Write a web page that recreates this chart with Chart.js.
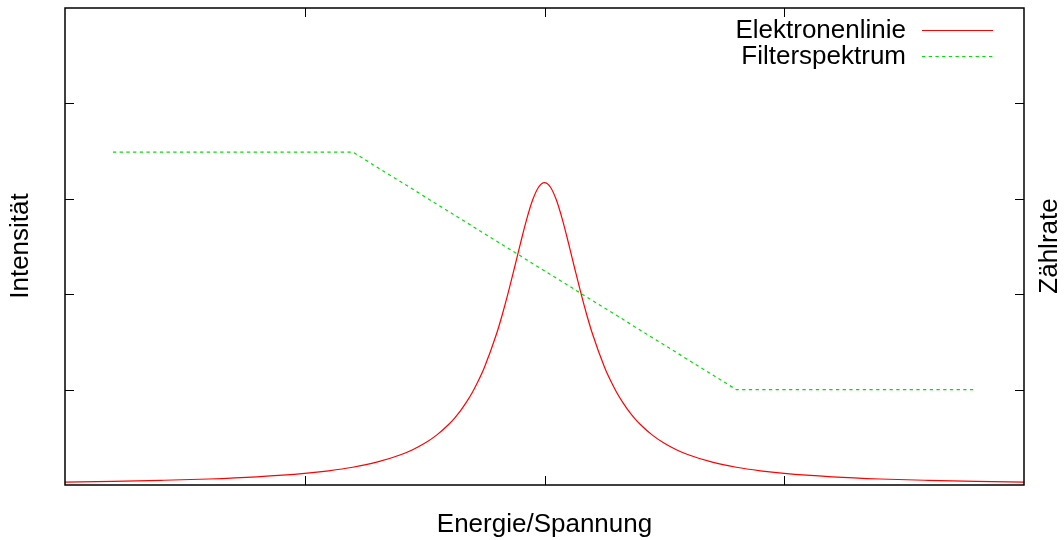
<!DOCTYPE html>
<html>
<head>
<meta charset="utf-8">
<script src="https://cdn.jsdelivr.net/npm/chart.js@4"></script>
<style>
  body { margin: 0; background: #fff; }
  #wrap { width: 1064px; height: 540px; }
</style>
</head>
<body>
<div id="wrap"><canvas id="chart" width="1064" height="540"></canvas></div>
<script>
// Elektronenlinie (Peak in der Mitte)
const elecX = [0, 0.2, 0.4, 0.6, 0.8, 1.0, 1.1, 1.2, 1.3, 1.4, 1.45, 1.5, 1.55, 1.6, 1.625, 1.65, 1.675, 1.7, 1.725, 1.75, 1.8, 1.825, 1.85, 1.875, 1.9, 1.925, 1.95, 1.975, 2,
  2.025, 2.05, 2.075, 2.1, 2.125, 2.15, 2.175, 2.2, 2.25, 2.275, 2.3, 2.325, 2.35, 2.375, 2.4, 2.45, 2.5, 2.55, 2.6, 2.7, 2.8, 2.9, 3.0, 3.2, 3.4, 3.6, 3.8, 4];
const elecY = [0.031, 0.039, 0.049, 0.063, 0.086, 0.122, 0.149, 0.186, 0.239, 0.317, 0.37, 0.437, 0.523, 0.634, 0.702, 0.78, 0.871, 0.975, 1.097, 1.237, 1.585, 1.795, 2.029, 2.28, 2.536, 2.779, 2.984, 3.121, 3.17,
  3.121, 2.984, 2.779, 2.536, 2.28, 2.029, 1.795, 1.585, 1.237, 1.097, 0.975, 0.871, 0.78, 0.702, 0.634, 0.523, 0.437, 0.37, 0.317, 0.239, 0.186, 0.149, 0.122, 0.086, 0.063, 0.049, 0.039, 0.031];

// Filterspektrum
const filterX = [0.2, 1.2, 2.8, 3.8];
const filterY = [3.49, 3.49, 1.0, 1.0];

// Tickpositionen (ohne Beschriftung)
const xTicks = [1, 2, 3];
const yTicks = [1, 2, 3, 4];

const seriesNames = ['Elektronenlinie', 'Filterspektrum'];
const FONT = '26px "Liberation Sans", Arial, sans-serif';

function toPoints(xs, ys) {
  return xs.map((x, i) => ({ x: x, y: ys[i] }));
}

// Rahmen, Ticks, Achsentitel und Legende im gnuplot-Stil
const gnuFrame = {
  id: 'gnuFrame',
  afterDraw(chart) {
    const ctx = chart.ctx;
    const a = chart.chartArea;
    const sx = chart.scales.x, sy = chart.scales.y;
    ctx.save();
    ctx.strokeStyle = '#000';
    ctx.lineWidth = 1.5;
    ctx.strokeRect(a.left, a.top, a.right - a.left, a.bottom - a.top);
    ctx.lineWidth = 1;
    const tl = 9;
    xTicks.forEach(v => {
      const px = Math.round(sx.getPixelForValue(v)) + 0.5;
      ctx.beginPath();
      ctx.moveTo(px, a.bottom); ctx.lineTo(px, a.bottom - tl);
      ctx.moveTo(px, a.top); ctx.lineTo(px, a.top + tl);
      ctx.stroke();
    });
    yTicks.forEach(v => {
      const py = Math.round(sy.getPixelForValue(v)) + 0.5;
      ctx.beginPath();
      ctx.moveTo(a.left, py); ctx.lineTo(a.left + tl, py);
      ctx.moveTo(a.right, py); ctx.lineTo(a.right - tl, py);
      ctx.stroke();
    });

    ctx.fillStyle = '#000';
    ctx.font = FONT;
    ctx.textBaseline = 'middle';
    ctx.textAlign = 'center';
    ctx.fillText('Energie/Spannung', (a.left + a.right) / 2, 525);

    ctx.save();
    ctx.translate(21, 246);
    ctx.rotate(-Math.PI / 2);
    ctx.fillText('Intensität', 0, 0);
    ctx.restore();

    ctx.save();
    ctx.translate(1050, 246);
    ctx.rotate(-Math.PI / 2);
    ctx.fillText('Zählrate', 0, 0);
    ctx.restore();

    // Legende
    const rows = [30, 56];
    chart.data.datasets.forEach((ds, i) => {
      const y = rows[i];
      ctx.textAlign = 'right';
      ctx.fillStyle = '#000';
      ctx.fillText(seriesNames[i], 906, y + 1);
      ctx.strokeStyle = ds.borderColor;
      ctx.lineWidth = ds.borderWidth;
      ctx.setLineDash(ds.borderDash || []);
      ctx.beginPath();
      ctx.moveTo(922, y + 0.5); ctx.lineTo(993, y + 0.5);
      ctx.stroke();
      ctx.setLineDash([]);
    });
    ctx.restore();
  }
};

new Chart(document.getElementById('chart'), {
  type: 'line',
  data: {
    datasets: [
      {
        label: seriesNames[0],
        data: toPoints(elecX, elecY),
        borderColor: '#ff0000',
        borderWidth: 1.2,
        pointRadius: 0,
        fill: false,
        cubicInterpolationMode: 'monotone'
      },
      {
        label: seriesNames[1],
        data: toPoints(filterX, filterY),
        borderColor: '#00e000',
        borderWidth: 1.2,
        borderDash: [3.3, 3.4],
        pointRadius: 0,
        fill: false,
        tension: 0
      }
    ]
  },
  options: {
    responsive: false,
    animation: false,
    events: [],
    layout: { padding: { left: 65, right: 40, top: 8, bottom: 55 } },
    plugins: {
      legend: { display: false },
      tooltip: { enabled: false }
    },
    scales: {
      x: { type: 'linear', min: 0, max: 4, display: false },
      y: { type: 'linear', min: 0, max: 5, display: false }
    }
  },
  plugins: [gnuFrame]
});
</script>
</body>
</html>
